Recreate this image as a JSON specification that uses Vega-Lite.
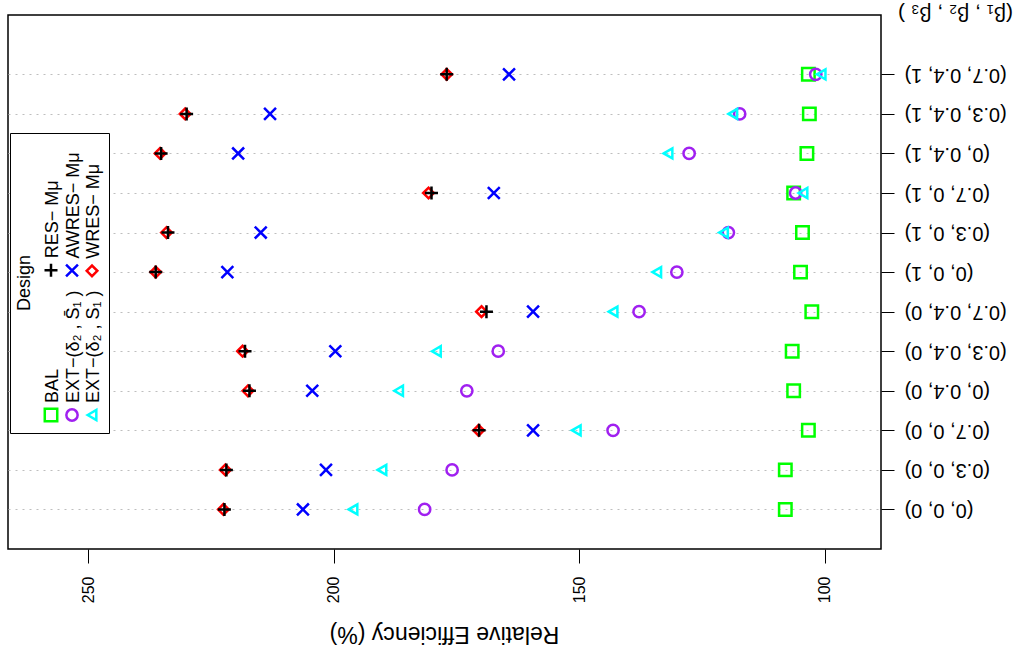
{
  "$schema": "https://vega.github.io/schema/vega-lite/v6.json",
  "width": 873,
  "height": 534,
  "autosize": "none",
  "padding": {"left": 8, "top": 15, "right": 137, "bottom": 104},
  "background": "white",
  "config": {
    "font": "Liberation Sans",
    "view": {"stroke": "black", "strokeWidth": 1.5}
  },
  "data": {
    "values": [
      {"design": "BAL", "setting": "(0, 0, 0)", "idx": 1, "efficiency": 108.0},
      {"design": "BAL", "setting": "(0.3, 0, 0)", "idx": 2, "efficiency": 108.0},
      {"design": "BAL", "setting": "(0.7, 0, 0)", "idx": 3, "efficiency": 103.3},
      {"design": "BAL", "setting": "(0, 0.4, 0)", "idx": 4, "efficiency": 106.3},
      {"design": "BAL", "setting": "(0.3, 0.4, 0)", "idx": 5, "efficiency": 106.6},
      {"design": "BAL", "setting": "(0.7, 0.4, 0)", "idx": 6, "efficiency": 102.6},
      {"design": "BAL", "setting": "(0, 0, 1)", "idx": 7, "efficiency": 104.9},
      {"design": "BAL", "setting": "(0.3, 0, 1)", "idx": 8, "efficiency": 104.5},
      {"design": "BAL", "setting": "(0.7, 0, 1)", "idx": 9, "efficiency": 106.3},
      {"design": "BAL", "setting": "(0, 0.4, 1)", "idx": 10, "efficiency": 103.6},
      {"design": "BAL", "setting": "(0.3, 0.4, 1)", "idx": 11, "efficiency": 103.1},
      {"design": "BAL", "setting": "(0.7, 0.4, 1)", "idx": 12, "efficiency": 103.3},

      {"design": "EXT\u2212(\u03b4\u2082 , S\u0304\u2081 )", "setting": "(0, 0, 0)", "idx": 1, "efficiency": 181.5},
      {"design": "EXT\u2212(\u03b4\u2082 , S\u0304\u2081 )", "setting": "(0.3, 0, 0)", "idx": 2, "efficiency": 175.9},
      {"design": "EXT\u2212(\u03b4\u2082 , S\u0304\u2081 )", "setting": "(0.7, 0, 0)", "idx": 3, "efficiency": 143.1},
      {"design": "EXT\u2212(\u03b4\u2082 , S\u0304\u2081 )", "setting": "(0, 0.4, 0)", "idx": 4, "efficiency": 172.9},
      {"design": "EXT\u2212(\u03b4\u2082 , S\u0304\u2081 )", "setting": "(0.3, 0.4, 0)", "idx": 5, "efficiency": 166.5},
      {"design": "EXT\u2212(\u03b4\u2082 , S\u0304\u2081 )", "setting": "(0.7, 0.4, 0)", "idx": 6, "efficiency": 137.8},
      {"design": "EXT\u2212(\u03b4\u2082 , S\u0304\u2081 )", "setting": "(0, 0, 1)", "idx": 7, "efficiency": 130.1},
      {"design": "EXT\u2212(\u03b4\u2082 , S\u0304\u2081 )", "setting": "(0.3, 0, 1)", "idx": 8, "efficiency": 119.6},
      {"design": "EXT\u2212(\u03b4\u2082 , S\u0304\u2081 )", "setting": "(0.7, 0, 1)", "idx": 9, "efficiency": 105.9},
      {"design": "EXT\u2212(\u03b4\u2082 , S\u0304\u2081 )", "setting": "(0, 0.4, 1)", "idx": 10, "efficiency": 127.6},
      {"design": "EXT\u2212(\u03b4\u2082 , S\u0304\u2081 )", "setting": "(0.3, 0.4, 1)", "idx": 11, "efficiency": 117.3},
      {"design": "EXT\u2212(\u03b4\u2082 , S\u0304\u2081 )", "setting": "(0.7, 0.4, 1)", "idx": 12, "efficiency": 101.8},

      {"design": "EXT\u2212(\u03b4\u2082 , S\u2081 )", "setting": "(0, 0, 0)", "idx": 1, "efficiency": 196.1},
      {"design": "EXT\u2212(\u03b4\u2082 , S\u2081 )", "setting": "(0.3, 0, 0)", "idx": 2, "efficiency": 190.2},
      {"design": "EXT\u2212(\u03b4\u2082 , S\u2081 )", "setting": "(0.7, 0, 0)", "idx": 3, "efficiency": 150.6},
      {"design": "EXT\u2212(\u03b4\u2082 , S\u2081 )", "setting": "(0, 0.4, 0)", "idx": 4, "efficiency": 186.8},
      {"design": "EXT\u2212(\u03b4\u2082 , S\u2081 )", "setting": "(0.3, 0.4, 0)", "idx": 5, "efficiency": 179.1},
      {"design": "EXT\u2212(\u03b4\u2082 , S\u2081 )", "setting": "(0.7, 0.4, 0)", "idx": 6, "efficiency": 143.1},
      {"design": "EXT\u2212(\u03b4\u2082 , S\u2081 )", "setting": "(0, 0, 1)", "idx": 7, "efficiency": 134.2},
      {"design": "EXT\u2212(\u03b4\u2082 , S\u2081 )", "setting": "(0.3, 0, 1)", "idx": 8, "efficiency": 120.6},
      {"design": "EXT\u2212(\u03b4\u2082 , S\u2081 )", "setting": "(0.7, 0, 1)", "idx": 9, "efficiency": 104.4},
      {"design": "EXT\u2212(\u03b4\u2082 , S\u2081 )", "setting": "(0, 0.4, 1)", "idx": 10, "efficiency": 131.9},
      {"design": "EXT\u2212(\u03b4\u2082 , S\u2081 )", "setting": "(0.3, 0.4, 1)", "idx": 11, "efficiency": 118.7},
      {"design": "EXT\u2212(\u03b4\u2082 , S\u2081 )", "setting": "(0.7, 0.4, 1)", "idx": 12, "efficiency": 100.7},

      {"design": "AWRES\u2212 M\u03bc", "setting": "(0, 0, 0)", "idx": 1, "efficiency": 206.3},
      {"design": "AWRES\u2212 M\u03bc", "setting": "(0.3, 0, 0)", "idx": 2, "efficiency": 201.6},
      {"design": "AWRES\u2212 M\u03bc", "setting": "(0.7, 0, 0)", "idx": 3, "efficiency": 159.4},
      {"design": "AWRES\u2212 M\u03bc", "setting": "(0, 0.4, 0)", "idx": 4, "efficiency": 204.4},
      {"design": "AWRES\u2212 M\u03bc", "setting": "(0.3, 0.4, 0)", "idx": 5, "efficiency": 199.7},
      {"design": "AWRES\u2212 M\u03bc", "setting": "(0.7, 0.4, 0)", "idx": 6, "efficiency": 159.4},
      {"design": "AWRES\u2212 M\u03bc", "setting": "(0, 0, 1)", "idx": 7, "efficiency": 221.7},
      {"design": "AWRES\u2212 M\u03bc", "setting": "(0.3, 0, 1)", "idx": 8, "efficiency": 214.9},
      {"design": "AWRES\u2212 M\u03bc", "setting": "(0.7, 0, 1)", "idx": 9, "efficiency": 167.4},
      {"design": "AWRES\u2212 M\u03bc", "setting": "(0, 0.4, 1)", "idx": 10, "efficiency": 219.5},
      {"design": "AWRES\u2212 M\u03bc", "setting": "(0.3, 0.4, 1)", "idx": 11, "efficiency": 213.0},
      {"design": "AWRES\u2212 M\u03bc", "setting": "(0.7, 0.4, 1)", "idx": 12, "efficiency": 164.3},

      {"design": "WRES\u2212 M\u03bc", "setting": "(0, 0, 0)", "idx": 1, "efficiency": 222.5},
      {"design": "WRES\u2212 M\u03bc", "setting": "(0.3, 0, 0)", "idx": 2, "efficiency": 222.1},
      {"design": "WRES\u2212 M\u03bc", "setting": "(0.7, 0, 0)", "idx": 3, "efficiency": 170.5},
      {"design": "WRES\u2212 M\u03bc", "setting": "(0, 0.4, 0)", "idx": 4, "efficiency": 217.5},
      {"design": "WRES\u2212 M\u03bc", "setting": "(0.3, 0.4, 0)", "idx": 5, "efficiency": 218.6},
      {"design": "WRES\u2212 M\u03bc", "setting": "(0.7, 0.4, 0)", "idx": 6, "efficiency": 169.9},
      {"design": "WRES\u2212 M\u03bc", "setting": "(0, 0, 1)", "idx": 7, "efficiency": 236.3},
      {"design": "WRES\u2212 M\u03bc", "setting": "(0.3, 0, 1)", "idx": 8, "efficiency": 234.1},
      {"design": "WRES\u2212 M\u03bc", "setting": "(0.7, 0, 1)", "idx": 9, "efficiency": 180.7},
      {"design": "WRES\u2212 M\u03bc", "setting": "(0, 0.4, 1)", "idx": 10, "efficiency": 235.4},
      {"design": "WRES\u2212 M\u03bc", "setting": "(0.3, 0.4, 1)", "idx": 11, "efficiency": 230.3},
      {"design": "WRES\u2212 M\u03bc", "setting": "(0.7, 0.4, 1)", "idx": 12, "efficiency": 177.0},

      {"design": "RES\u2212 M\u03bc", "setting": "(0, 0, 0)", "idx": 1, "efficiency": 222.3},
      {"design": "RES\u2212 M\u03bc", "setting": "(0.3, 0, 0)", "idx": 2, "efficiency": 221.9},
      {"design": "RES\u2212 M\u03bc", "setting": "(0.7, 0, 0)", "idx": 3, "efficiency": 170.4},
      {"design": "RES\u2212 M\u03bc", "setting": "(0, 0.4, 0)", "idx": 4, "efficiency": 217.2},
      {"design": "RES\u2212 M\u03bc", "setting": "(0.3, 0.4, 0)", "idx": 5, "efficiency": 218.1},
      {"design": "RES\u2212 M\u03bc", "setting": "(0.7, 0.4, 0)", "idx": 6, "efficiency": 168.9},
      {"design": "RES\u2212 M\u03bc", "setting": "(0, 0, 1)", "idx": 7, "efficiency": 236.3},
      {"design": "RES\u2212 M\u03bc", "setting": "(0.3, 0, 1)", "idx": 8, "efficiency": 233.8},
      {"design": "RES\u2212 M\u03bc", "setting": "(0.7, 0, 1)", "idx": 9, "efficiency": 180.1},
      {"design": "RES\u2212 M\u03bc", "setting": "(0, 0.4, 1)", "idx": 10, "efficiency": 235.2},
      {"design": "RES\u2212 M\u03bc", "setting": "(0.3, 0.4, 1)", "idx": 11, "efficiency": 230.0},
      {"design": "RES\u2212 M\u03bc", "setting": "(0.7, 0.4, 1)", "idx": 12, "efficiency": 177.0}
    ]
  },
  "mark": {"type": "point", "filled": false, "strokeWidth": 2.5, "opacity": 1},
  "encoding": {
    "x": {
      "field": "efficiency",
      "type": "quantitative",
      "scale": {"domain": [88.5, 266.4], "reverse": true, "nice": false, "zero": false},
      "axis": {
        "title": "Relative Efficiency (%)",
        "values": [100, 150, 200, 250],
        "labelAngle": 270,
        "labelAlign": "right",
        "labelBaseline": "middle",
        "labelFontSize": 16,
        "labelColor": "black",
        "labelPadding": 13,
        "tickSize": 14,
        "tickColor": "black",
        "tickWidth": 1,
        "domain": false,
        "grid": false,
        "titleFontSize": 23,
        "titleFontWeight": "normal",
        "titleColor": "black",
        "titleAngle": 180,
        "titleAlign": "center",
        "titleBaseline": "middle",
        "titleX": 436,
        "titleY": 84
      }
    },
    "y": {
      "field": "idx",
      "type": "quantitative",
      "scale": {"domain": [0, 13.5], "nice": false, "zero": false},
      "axis": {
        "orient": "right",
        "title": "(\u03b2\u2081 , \u03b2\u2082 , \u03b2\u2083 )",
        "values": [1, 2, 3, 4, 5, 6, 7, 8, 9, 10, 11, 12],
        "labelExpr": "['(0, 0, 0)','(0.3, 0, 0)','(0.7, 0, 0)','(0, 0.4, 0)','(0.3, 0.4, 0)','(0.7, 0.4, 0)','(0, 0, 1)','(0.3, 0, 1)','(0.7, 0, 1)','(0, 0.4, 1)','(0.3, 0.4, 1)','(0.7, 0.4, 1)'][datum.value - 1]",
        "labelAngle": 180,
        "labelAlign": "right",
        "labelBaseline": "middle",
        "labelFontSize": 20,
        "labelColor": "black",
        "labelPadding": 10,
        "tickSize": 13,
        "tickColor": "black",
        "tickWidth": 1,
        "domain": false,
        "grid": true,
        "gridColor": "#BEBEBE",
        "gridDash": [2, 5],
        "gridWidth": 1,
        "titleFontSize": 21,
        "titleFontWeight": "normal",
        "titleColor": "black",
        "titleAngle": 180,
        "titleAlign": "center",
        "titleBaseline": "middle",
        "titleX": 74,
        "titleY": -3
      }
    },
    "color": {
      "field": "design",
      "type": "nominal",
      "scale": {
        "domain": ["RES\u2212 M\u03bc", "BAL", "AWRES\u2212 M\u03bc", "EXT\u2212(\u03b4\u2082 , S\u0304\u2081 )", "WRES\u2212 M\u03bc", "EXT\u2212(\u03b4\u2082 , S\u2081 )"],
        "range": ["#000000", "#00FF00", "#0000FF", "#A020F0", "#FF0000", "#00FFFF"]
      },
      "legend": {
        "title": "Design",
        "orient": "none",
        "legendX": 2,
        "legendY": 118,
        "direction": "vertical",
        "columns": 3,
        "strokeColor": "black",
        "fillColor": "white",
        "padding": 6,
        "titleOrient": "left",
        "titleAnchor": "middle",
        "titleAlign": "center",
        "titleBaseline": "middle",
        "titleFontSize": 18,
        "titleFontWeight": "normal",
        "titleColor": "black",
        "titlePadding": -2,
        "labelFontSize": 18,
        "labelColor": "black",
        "labelAlign": "left",
        "labelBaseline": "middle",
        "labelOffset": 0,
        "labelLimit": 400,
        "symbolStrokeWidth": 2.5,
        "columnPadding": -4,
        "rowPadding": 2,
        "encoding": {
          "title": {"angle": {"value": -90}},
          "entries": {"width": {"value": 26}, "height": {"value": 20}, "fill": {"value": "transparent"}},
          "symbols": {"y": {"value": 131}},
          "labels": {"y": {"value": 131}, "angle": {"value": -90}, "dx": {"value": 12}, "dy": {"value": -7}}
        }
      }
    },
    "shape": {
      "field": "design",
      "type": "nominal",
      "scale": {
        "domain": ["RES\u2212 M\u03bc", "BAL", "AWRES\u2212 M\u03bc", "EXT\u2212(\u03b4\u2082 , S\u0304\u2081 )", "WRES\u2212 M\u03bc", "EXT\u2212(\u03b4\u2082 , S\u2081 )"],
        "range": ["M-1,0L1,0M0,-1L0,1", "square", "M-1,-1L1,1M-1,1L1,-1", "circle", "diamond", "triangle-left"]
      }
    },
    "size": {
      "field": "design",
      "type": "nominal",
      "scale": {
        "domain": ["RES\u2212 M\u03bc", "BAL", "AWRES\u2212 M\u03bc", "EXT\u2212(\u03b4\u2082 , S\u0304\u2081 )", "WRES\u2212 M\u03bc", "EXT\u2212(\u03b4\u2082 , S\u2081 )"],
        "range": [169, 100, 144, 114, 240, 230]
      }
    }
  }
}
